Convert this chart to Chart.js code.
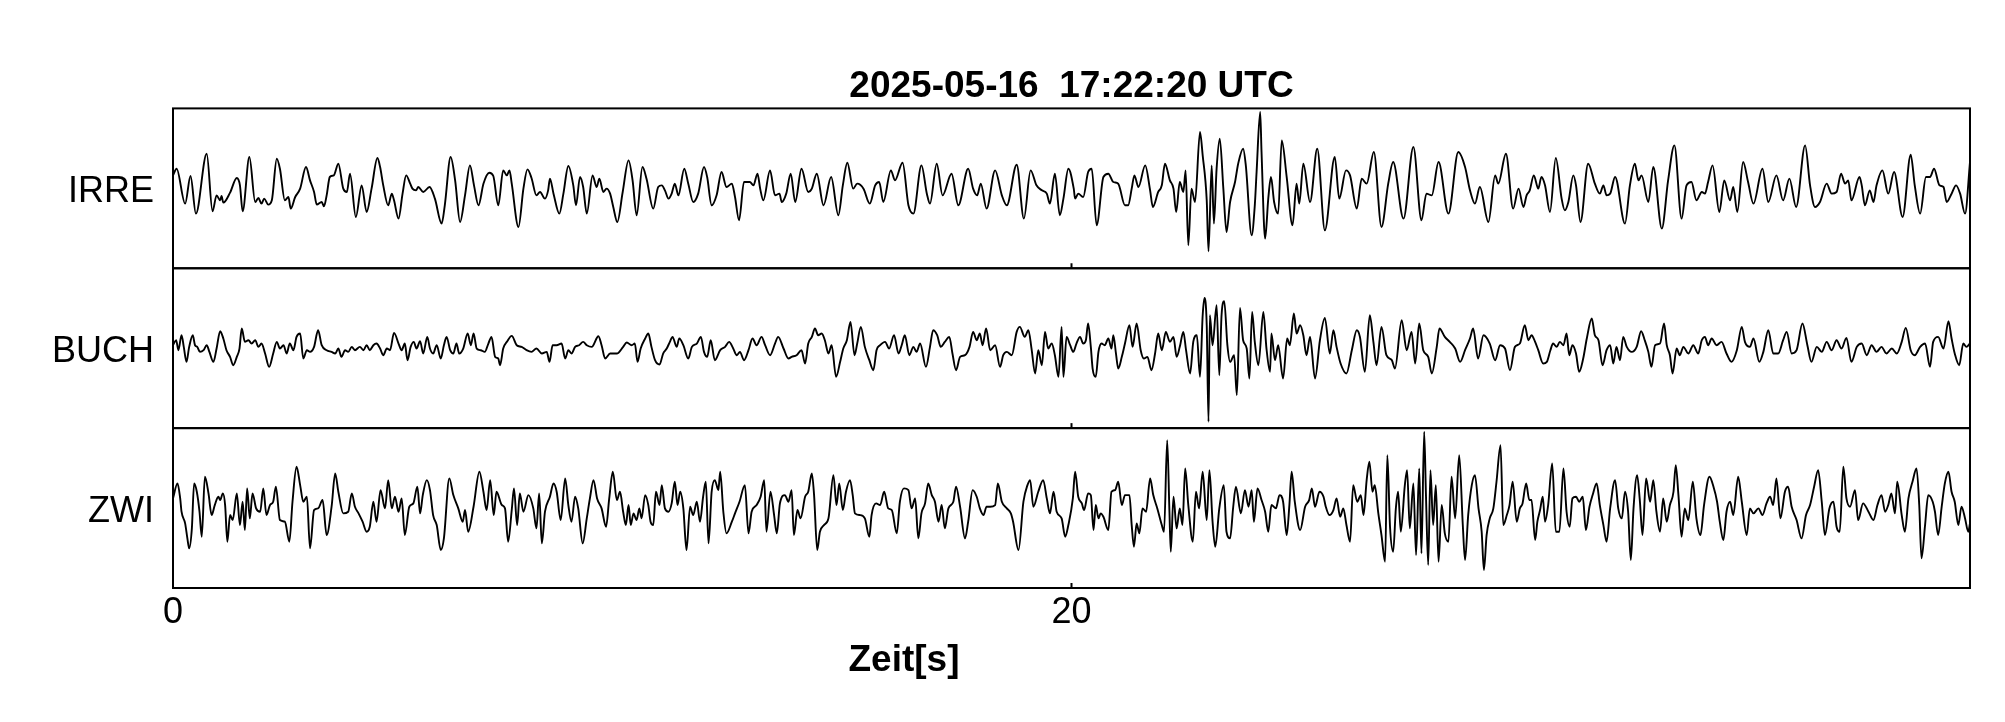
<!DOCTYPE html>
<html><head><meta charset="utf-8">
<script src="https://cdn.jsdelivr.net/npm/chart.js@4.4.1/dist/chart.umd.min.js"></script>
<style>html,body{margin:0;padding:0;background:#fff;}canvas{display:block;}</style>
</head><body>
<canvas id="c" width="2005" height="722"></canvas>
<script>
const titleText = '2025-05-16  17:22:20 UTC';
const xAxisTitle = 'Zeit[s]';
const stations = ['IRRE', 'BUCH', 'ZWI'];
const xTicks = [0, 20];
const timeRange = [0, 40];
const ampRange = [-240, 240];

// [time in s, amplitude]
const irreTrace = [[0,39],[0.08,59],[0.27,-46],[0.39,37],[0.51,-76],[0.75,104],[0.88,-69],[0.97,-21],[1.05,-36],[1.08,-23],[1.12,-43],[1.27,-13],[1.42,31],[1.49,9],[1.55,-69],[1.70,94],[1.83,-41],[1.90,-29],[1.97,-46],[2.03,-31],[2.12,-49],[2.20,-36],[2.31,89],[2.38,59],[2.49,-36],[2.57,-26],[2.62,-61],[2.72,-26],[2.83,-1],[2.96,64],[3.05,24],[3.14,-11],[3.20,-49],[3.31,-41],[3.36,-54],[3.42,-21],[3.49,34],[3.58,39],[3.68,74],[3.79,-1],[3.87,-11],[3.94,44],[4.07,-86],[4.20,9],[4.31,-71],[4.42,-1],[4.55,91],[4.61,64],[4.68,9],[4.79,-51],[4.87,-16],[4.92,-36],[5.02,-91],[5.11,-16],[5.19,39],[5.28,14],[5.33,-1],[5.41,-6],[5.46,4],[5.57,-11],[5.71,4],[5.83,-31],[5.98,-106],[6.05,-51],[6.18,94],[6.28,24],[6.39,-101],[6.50,-21],[6.61,69],[6.70,9],[6.80,-51],[6.91,14],[7.04,47],[7.13,37],[7.24,-51],[7.35,54],[7.43,39],[7.49,54],[7.54,14],[7.69,-116],[7.80,-1],[7.89,57],[7.98,31],[8.09,-21],[8.17,-11],[8.28,-31],[8.35,-6],[8.39,29],[8.47,-16],[8.60,-76],[8.69,-16],[8.80,67],[8.91,9],[8.97,-51],[9.06,34],[9.13,4],[9.21,-76],[9.34,39],[9.43,4],[9.49,29],[9.58,-11],[9.65,-1],[9.73,-16],[9.80,-56],[9.89,-101],[10.01,-11],
[10.14,84],[10.23,24],[10.32,-81],[10.45,64],[10.54,29],[10.69,-61],[10.80,4],[10.88,9],[10.95,-6],[11.03,-31],[11.10,-16],[11.17,14],[11.25,-21],[11.38,59],[11.47,14],[11.58,-41],[11.69,-16],[11.82,64],[11.89,34],[11.99,-51],[12.10,-21],[12.21,49],[12.32,4],[12.44,14],[12.51,-26],[12.60,-96],[12.71,19],[12.84,19],[12.92,9],[13.01,44],[13.07,-1],[13.14,-36],[13.29,54],[13.40,-21],[13.50,-16],[13.55,-41],[13.65,-16],[13.75,44],[13.85,-41],[13.99,59],[14.14,-11],[14.22,-1],[14.33,44],[14.48,-51],[14.65,34],[14.81,-81],[14.91,9],[15.01,77],[15.14,-1],[15.23,14],[15.37,-1],[15.51,-46],[15.63,9],[15.72,19],[15.81,-41],[15.98,54],[16.07,24],[16.24,77],[16.37,-51],[16.48,-76],[16.66,69],[16.78,-16],[16.85,-46],[17.00,74],[17.13,-21],[17.33,44],[17.48,-51],[17.70,59],[17.81,-1],[17.90,-21],[17.98,14],[18.11,-61],[18.30,54],[18.45,-21],[18.56,-51],[18.78,71],[18.94,-91],[19.09,54],[19.22,9],[19.34,-6],[19.45,-16],[19.52,-46],[19.63,44],[19.74,-81],[19.82,-31],[19.93,59],[20.05,-1],
[20.08,-31],[20.15,-16],[20.26,-26],[20.37,49],[20.45,59],[20.56,-111],[20.71,34],[20.82,44],[20.93,19],[21.04,14],[21.19,-51],[21.26,-51],[21.34,-1],[21.40,39],[21.49,4],[21.64,69],[21.75,-6],[21.81,-56],[21.93,-11],[22.01,9],[22.08,74],[22.19,24],[22.27,-1],[22.33,-71],[22.41,19],[22.49,-11],[22.54,54],[22.60,-171],[22.67,-1],[22.75,-41],[22.86,169],[22.92,99],[23.01,-36],[23.05,-189],[23.12,69],[23.17,-106],[23.23,59],[23.30,149],[23.38,-1],[23.45,-131],[23.53,-41],[23.64,19],[23.71,74],[23.82,119],[23.88,69],[24.01,-141],[24.08,-51],[24.12,49],[24.20,229],[24.23,109],[24.31,-151],[24.38,-31],[24.44,34],[24.51,-41],[24.60,-76],[24.68,144],[24.79,34],[24.92,-111],[25.01,14],[25.07,-46],[25.16,74],[25.31,-41],[25.47,119],[25.64,-126],[25.86,94],[25.96,-31],[26.11,54],[26.20,39],[26.35,-61],[26.46,29],[26.57,14],[26.73,109],[26.90,-116],[27.05,14],[27.16,79],[27.39,-91],[27.61,124],[27.79,-96],[27.90,-16],[28.02,-21],[28.17,79],[28.39,-76],[28.61,109],[28.76,64],[28.87,-6],[28.98,-46],[29.09,4],[29.28,-101],[29.43,39],[29.50,14],[29.67,104],[29.83,-61],[29.95,-1],[30.06,-56],
[30.13,-21],[30.20,-6],[30.29,39],[30.39,-1],[30.46,34],[30.54,9],[30.65,-71],[30.78,91],[30.91,-31],[30.98,-66],[31.06,-41],[31.17,39],[31.23,9],[31.33,-101],[31.50,74],[31.65,14],[31.76,-16],[31.84,9],[31.91,-21],[31.99,-16],[32.10,34],[32.32,-106],[32.43,9],[32.54,74],[32.62,24],[32.69,39],[32.84,-41],[32.95,64],[33.14,-121],[33.28,24],[33.42,129],[33.58,-91],[33.69,9],[33.80,19],[33.91,-36],[34.03,-11],[34.10,-16],[34.17,19],[34.27,69],[34.42,-71],[34.53,24],[34.66,-36],[34.73,4],[34.82,-71],[34.95,79],[35.06,19],[35.18,-46],[35.38,59],[35.51,-41],[35.69,39],[35.84,-36],[35.98,29],[36.13,-56],[36.33,129],[36.44,9],[36.55,-56],[36.66,-41],[36.81,14],[36.92,-16],[37.03,-11],[37.13,44],[37.22,14],[37.29,24],[37.36,-36],[37.54,34],[37.59,9],[37.66,-51],[37.77,-6],[37.85,-41],[37.92,9],[38.05,54],[38.18,-16],[38.31,49],[38.50,-86],[38.68,101],[38.77,9],[38.89,-76],[39.02,34],[39.11,34],[39.20,59],[39.32,9],[39.41,4],[39.48,-41],[39.59,-16],[39.69,9],[39.78,-16],[39.89,-76],[40.00,79]];

const buchTrace = [[0,9],[0.07,24],[0.12,-6],[0.19,39],[0.24,4],[0.30,-41],[0.36,4],[0.44,39],[0.49,9],[0.54,4],[0.60,-11],[0.68,-6],[0.75,9],[0.81,-11],[0.90,-41],[0.97,-1],[1.05,51],[1.12,29],[1.19,-6],[1.27,-26],[1.34,-51],[1.42,-26],[1.48,-1],[1.53,59],[1.60,19],[1.68,24],[1.75,14],[1.83,24],[1.90,4],[1.97,14],[2.05,-16],[2.14,-56],[2.23,-16],[2.31,19],[2.38,-1],[2.46,9],[2.53,-16],[2.60,14],[2.68,-6],[2.75,34],[2.83,44],[2.90,-31],[2.98,-6],[3.05,-11],[3.14,4],[3.23,54],[3.31,9],[3.42,-6],[3.53,-11],[3.61,-16],[3.68,-1],[3.75,-26],[3.83,-6],[3.90,-11],[3.98,4],[4.05,-6],[4.16,4],[4.24,-6],[4.31,9],[4.38,-6],[4.46,9],[4.53,14],[4.61,-1],[4.68,-21],[4.76,-1],[4.83,-6],[4.92,46],[5.02,14],[5.09,-6],[5.16,14],[5.22,-36],[5.29,4],[5.36,19],[5.42,-1],[5.50,21],[5.57,-16],[5.66,34],[5.72,-1],[5.79,-16],[5.87,9],[5.96,-31],[6.03,9],[6.09,34],[6.17,-6],[6.24,-16],[6.31,14],[6.37,-16],[6.46,-1],[6.56,44],[6.63,9],[6.69,44],[6.76,-1],[6.85,-6],[6.94,-11],[7.02,14],[7.09,34],[7.17,-26],[7.24,-31],[7.28,-51],[7.35,-1],[7.44,21],[7.54,37],[7.65,9],[7.76,4],[7.87,-6],[7.98,-11],[8.09,-1],[8.21,-16],[8.32,-11],[8.38,-41],[8.45,9],[8.54,9],[8.65,14],[8.73,-31],[8.80,-6],[8.87,-16],[8.95,4],[9.04,9],[9.13,19],[9.21,9],[9.32,4],[9.47,36],[9.54,9],[9.62,-31],[9.73,-16],[9.88,-16],
[10.02,4],[10.10,17],[10.21,9],[10.28,14],[10.34,-41],[10.41,-1],[10.51,29],[10.58,44],[10.65,4],[10.73,-36],[10.83,-49],[10.91,-16],[10.99,-1],[11.06,19],[11.12,34],[11.21,4],[11.27,29],[11.36,9],[11.47,-31],[11.55,4],[11.66,14],[11.75,34],[11.82,-11],[11.89,-26],[11.97,24],[12.06,-36],[12.18,-6],[12.29,4],[12.38,19],[12.47,-1],[12.55,-21],[12.62,-11],[12.71,-36],[12.81,-6],[12.90,29],[12.99,9],[13.10,34],[13.18,9],[13.29,-21],[13.40,14],[13.47,34],[13.59,-1],[13.70,-31],[13.77,-26],[13.88,-21],[13.99,-6],[14.07,-46],[14.14,14],[14.22,34],[14.29,59],[14.36,39],[14.44,44],[14.51,24],[14.59,-16],[14.66,9],[14.76,-86],[14.85,-41],[14.92,-1],[15.00,24],[15.08,79],[15.17,-21],[15.23,14],[15.31,64],[15.40,4],[15.50,-36],[15.59,-66],[15.66,-6],[15.74,9],[15.85,19],[15.94,-1],[16.05,39],[16.15,-16],[16.22,9],[16.29,39],[16.39,-21],[16.48,4],[16.55,-11],[16.63,14],[16.76,-56],[16.85,4],[16.92,54],[17.01,39],[17.09,4],[17.18,19],[17.28,34],[17.35,-16],[17.43,-66],[17.52,-26],[17.63,-21],[17.73,4],[17.81,49],[17.89,24],[17.96,44],[18.02,9],[18.10,59],[18.19,-6],[18.30,9],[18.41,-56],[18.48,-21],[18.56,-11],[18.67,-21],[18.78,49],[18.85,64],[18.96,34],[19.04,54],[19.11,-1],[19.19,-76],[19.26,-6],[19.34,-51],[19.41,49],[19.48,-1],[19.56,14],[19.63,-21],[19.71,-86],[19.78,64],[19.82,-86],[19.89,34],[19.97,9],
[20.04,-11],[20.11,14],[20.19,34],[20.26,14],[20.32,24],[20.37,74],[20.43,4],[20.47,-61],[20.54,-86],[20.60,-11],[20.67,14],[20.74,9],[20.82,29],[20.89,-1],[20.93,39],[20.99,-16],[21.04,-61],[21.12,-26],[21.19,14],[21.29,69],[21.36,4],[21.45,74],[21.54,-6],[21.61,-31],[21.69,-26],[21.78,-66],[21.86,-16],[21.93,44],[22.01,-6],[22.10,49],[22.19,19],[22.27,34],[22.34,-26],[22.41,4],[22.49,49],[22.55,-6],[22.64,-76],[22.71,19],[22.79,39],[22.86,-86],[22.92,99],[22.96,151],[23.01,69],[23.05,-221],[23.08,99],[23.14,9],[23.23,129],[23.29,-81],[23.34,99],[23.40,141],[23.47,9],[23.53,-41],[23.62,-21],[23.68,-141],[23.75,121],[23.82,24],[23.90,-1],[23.96,-91],[24.02,109],[24.08,19],[24.16,-51],[24.27,109],[24.34,-1],[24.42,-71],[24.45,44],[24.53,-36],[24.60,9],[24.71,-91],[24.80,29],[24.86,9],[24.95,104],[25.01,44],[25.09,69],[25.16,39],[25.23,-21],[25.31,34],[25.42,-91],[25.53,24],[25.64,91],[25.75,-16],[25.83,54],[25.90,4],[25.99,-46],[26.12,-76],[26.24,-6],[26.35,54],[26.42,34],[26.53,-71],[26.64,99],[26.72,19],[26.79,-51],[26.90,64],[27.01,-21],[27.13,-36],[27.20,-61],[27.35,84],[27.46,-6],[27.57,49],[27.65,-46],[27.74,74],[27.83,-6],[27.94,-26],[28.02,-76],[28.13,4],[28.19,59],[28.31,34],[28.42,19],[28.54,-1],[28.65,-41],[28.76,-6],[28.87,29],[28.94,59],[29.05,-31],[29.17,39],[29.31,14],[29.43,-36],[29.54,9],[29.65,-1],[29.76,-66],[29.87,4],[29.98,14],
[30.09,69],[30.17,24],[30.24,39],[30.32,19],[30.39,-6],[30.50,-46],[30.58,-41],[30.66,-6],[30.72,14],[30.80,4],[30.87,19],[30.95,9],[31.02,44],[31.08,-21],[31.15,9],[31.23,-16],[31.30,-71],[31.39,-31],[31.47,29],[31.58,89],[31.65,39],[31.73,24],[31.82,-51],[31.91,-6],[31.99,9],[32.06,-46],[32.13,4],[32.21,-36],[32.28,34],[32.36,4],[32.47,-11],[32.58,4],[32.68,51],[32.76,24],[32.84,-11],[32.91,-56],[32.99,9],[33.10,14],[33.19,74],[33.25,9],[33.32,-21],[33.38,-76],[33.47,-1],[33.54,-21],[33.62,4],[33.73,-16],[33.84,9],[33.95,-16],[34.03,24],[34.10,34],[34.17,9],[34.25,29],[34.36,9],[34.47,19],[34.58,-16],[34.69,-41],[34.81,-6],[34.92,64],[34.99,19],[35.10,4],[35.18,29],[35.31,-41],[35.40,-11],[35.51,54],[35.62,-16],[35.73,-16],[35.84,24],[35.92,49],[36.03,-16],[36.14,-6],[36.27,74],[36.38,9],[36.47,-41],[36.59,4],[36.70,-11],[36.81,19],[36.92,-6],[37.03,24],[37.14,-1],[37.25,31],[37.36,-41],[37.48,4],[37.59,14],[37.70,-21],[37.81,9],[37.92,-11],[38.03,4],[38.14,-16],[38.26,-1],[38.37,-16],[38.48,19],[38.57,61],[38.68,-6],[38.77,-21],[38.89,4],[39.00,14],[39.11,-56],[39.18,19],[39.29,34],[39.41,-1],[39.52,81],[39.59,29],[39.66,-16],[39.76,-51],[39.85,14],[39.92,4],[40.00,14]];

const zwiTrace = [[0,29],[0.10,74],[0.16,29],[0.19,-11],[0.27,-46],[0.32,-91],[0.36,-121],[0.42,-61],[0.47,74],[0.53,49],[0.59,-11],[0.64,-86],[0.71,94],[0.79,44],[0.86,-21],[0.93,9],[1.01,34],[1.05,24],[1.11,44],[1.16,9],[1.21,-101],[1.27,-21],[1.33,-36],[1.42,44],[1.49,-51],[1.55,19],[1.60,-66],[1.65,59],[1.71,-31],[1.77,44],[1.85,-1],[1.94,-11],[2.01,59],[2.08,-21],[2.16,9],[2.23,19],[2.29,64],[2.38,-36],[2.49,-41],[2.59,-101],[2.66,19],[2.75,124],[2.83,69],[2.90,19],[2.98,34],[3.05,-121],[3.14,-6],[3.23,-1],[3.33,24],[3.42,-81],[3.53,4],[3.61,104],[3.68,49],[3.79,-16],[3.90,-11],[3.98,44],[4.05,4],[4.13,-16],[4.22,-41],[4.31,-71],[4.38,-56],[4.46,19],[4.53,-41],[4.62,54],[4.72,-1],[4.79,84],[4.87,-1],[4.94,34],[5.02,-11],[5.09,29],[5.16,-81],[5.26,4],[5.35,14],[5.44,64],[5.50,-16],[5.56,39],[5.65,84],[5.72,54],[5.79,-21],[5.87,-51],[5.96,-126],[6.03,-91],[6.15,89],[6.24,39],[6.35,-1],[6.45,-41],[6.50,-6],[6.57,-71],[6.69,4],[6.82,109],[6.91,49],[6.98,-6],[7.06,84],[7.14,-21],[7.20,49],[7.32,9],[7.39,-1],[7.46,-101],[7.54,-6],[7.59,59],[7.66,-51],[7.72,44],[7.80,-11],[7.91,39],[8.02,-1],[8.09,-61],[8.15,44],[8.21,-106],[8.28,-11],[8.39,34],[8.47,74],[8.54,49],[8.63,-36],[8.73,89],[8.80,9],[8.87,-41],[8.95,34],[9.02,-1],[9.12,-106],[9.21,-31],[9.28,29],[9.36,84],[9.44,29],[9.54,-1],[9.64,-56],[9.71,29],[9.79,109],[9.88,24],[9.95,49],
[10.02,-11],[10.08,-51],[10.14,9],[10.19,-51],[10.25,-16],[10.32,-36],[10.38,-1],[10.43,-31],[10.51,39],[10.58,9],[10.63,-41],[10.69,-51],[10.75,49],[10.83,9],[10.88,69],[10.95,-1],[11.03,-11],[11.10,14],[11.17,79],[11.23,9],[11.29,49],[11.36,-1],[11.43,-126],[11.51,4],[11.58,-21],[11.66,19],[11.73,-41],[11.80,34],[11.86,79],[11.92,-106],[11.99,49],[12.06,84],[12.14,54],[12.18,109],[12.25,-11],[12.32,-76],[12.44,-41],[12.51,-16],[12.61,19],[12.73,69],[12.81,-76],[12.88,-11],[12.99,9],[13.08,34],[13.16,84],[13.21,-71],[13.30,49],[13.38,-21],[13.44,-76],[13.51,14],[13.62,39],[13.70,19],[13.77,54],[13.82,-81],[13.90,-6],[13.97,-31],[14.07,34],[14.14,49],[14.22,104],[14.27,39],[14.34,-126],[14.40,-71],[14.49,-51],[14.59,-31],[14.70,99],[14.77,9],[14.83,74],[14.91,-6],[14.98,49],[15.07,84],[15.13,39],[15.18,-16],[15.29,-21],[15.40,-31],[15.50,-86],[15.55,-21],[15.65,14],[15.74,9],[15.83,49],[15.92,-1],[16.00,-6],[16.11,-76],[16.18,19],[16.27,59],[16.37,54],[16.44,-1],[16.52,29],[16.59,-91],[16.66,-16],[16.74,14],[16.81,74],[16.89,39],[16.96,19],[17.04,-41],[17.11,9],[17.18,-61],[17.26,-1],[17.37,19],[17.43,64],[17.52,4],[17.63,-91],[17.70,-41],[17.80,54],[17.89,34],[17.96,-1],[18.04,-21],[18.11,4],[18.19,4],[18.30,9],[18.36,74],[18.45,19],[18.56,-1],[18.65,-16],[18.70,-41],[18.82,-126],[18.93,19],[19.02,69],[19.08,84],[19.15,4],[19.26,49],[19.37,84],[19.45,29],[19.52,-16],[19.60,49],[19.67,-11],[19.78,-31],[19.86,-86],[19.93,-51],[20.03,29],
[20.08,109],[20.15,34],[20.23,14],[20.28,-6],[20.37,44],[20.43,39],[20.49,-66],[20.54,9],[20.60,-31],[20.65,-16],[20.71,-26],[20.82,-66],[20.89,49],[20.97,54],[21.04,79],[21.12,9],[21.19,39],[21.29,39],[21.34,-51],[21.39,-116],[21.45,-46],[21.51,-76],[21.58,-1],[21.66,-11],[21.75,89],[21.82,39],[21.91,-1],[22.01,-51],[22.06,-71],[22.13,204],[22.18,-11],[22.21,-131],[22.27,34],[22.34,-61],[22.41,-1],[22.47,-51],[22.53,119],[22.60,9],[22.70,-101],[22.77,49],[22.84,-1],[22.92,109],[23.01,-36],[23.07,114],[23.14,-41],[23.20,-116],[23.29,-1],[23.39,69],[23.45,-71],[23.53,-91],[23.60,4],[23.66,64],[23.77,-16],[23.86,54],[23.94,4],[24.01,54],[24.06,-41],[24.14,59],[24.23,24],[24.31,-11],[24.38,-71],[24.45,9],[24.55,-1],[24.63,39],[24.71,19],[24.79,-81],[24.85,9],[24.90,109],[24.97,19],[25.09,-66],[25.20,4],[25.29,24],[25.35,59],[25.42,4],[25.52,49],[25.61,34],[25.66,4],[25.74,-21],[25.83,-6],[25.90,29],[25.98,-26],[26.05,-1],[26.12,-51],[26.20,-101],[26.27,69],[26.36,19],[26.44,39],[26.50,-21],[26.57,84],[26.63,139],[26.70,49],[26.75,69],[26.83,-16],[26.90,-81],[26.98,-161],[27.03,159],[27.09,-56],[27.16,-131],[27.22,-1],[27.27,49],[27.33,-71],[27.42,69],[27.47,114],[27.53,-61],[27.61,74],[27.67,-141],[27.74,119],[27.79,-136],[27.85,229],[27.89,39],[27.94,-171],[27.99,114],[28.05,-51],[28.11,69],[28.17,-161],[28.24,9],[28.31,-76],[28.39,-101],[28.46,94],[28.54,-31],[28.63,159],[28.71,-51],[28.76,-156],[28.83,-21],[28.91,69],[28.98,99],[29.06,-1],[29.13,-71],[29.18,-186],[29.24,-81],[29.31,-31],[29.39,-1],[29.46,79],[29.55,189],[29.61,-51],[29.69,-21],[29.75,9],[29.82,79],[29.91,-41],[29.98,-1],
[30.04,14],[30.12,74],[30.19,24],[30.24,24],[30.32,-96],[30.37,-41],[30.43,-6],[30.49,34],[30.54,-41],[30.61,9],[30.70,134],[30.78,-71],[30.86,-71],[30.95,119],[31.02,-11],[31.09,-56],[31.15,29],[31.23,34],[31.30,19],[31.38,34],[31.45,-66],[31.53,4],[31.60,39],[31.69,74],[31.76,9],[31.84,-51],[31.91,-101],[31.99,-1],[32.10,84],[32.17,-1],[32.25,-31],[32.32,49],[32.39,-11],[32.45,-156],[32.51,-1],[32.59,99],[32.65,24],[32.71,-81],[32.79,89],[32.88,19],[32.95,84],[33.02,-11],[33.10,-71],[33.17,29],[33.25,-41],[33.32,9],[33.40,49],[33.45,129],[33.51,39],[33.58,-86],[33.65,-1],[33.73,-36],[33.83,79],[33.91,-31],[34.00,-81],[34.08,9],[34.20,94],[34.29,64],[34.37,19],[34.43,-41],[34.51,-96],[34.58,-11],[34.66,19],[34.73,-21],[34.84,94],[34.92,19],[35.03,-81],[35.10,-1],[35.18,-16],[35.29,-1],[35.38,-21],[35.47,14],[35.55,34],[35.62,9],[35.69,89],[35.78,-31],[35.88,49],[35.95,64],[36.03,4],[36.14,-36],[36.25,-91],[36.35,-21],[36.44,9],[36.53,64],[36.62,114],[36.70,19],[36.77,-81],[36.87,-1],[36.96,19],[37.03,-56],[37.10,-71],[37.18,124],[37.25,29],[37.33,4],[37.44,54],[37.51,-36],[37.62,14],[37.74,-11],[37.85,-36],[37.94,9],[38.03,39],[38.11,-11],[38.18,9],[38.25,44],[38.33,-16],[38.38,79],[38.48,-21],[38.55,-71],[38.63,29],[38.72,79],[38.81,119],[38.87,9],[38.92,-151],[39.00,-51],[39.07,39],[39.17,19],[39.22,-11],[39.29,-81],[39.37,4],[39.44,74],[39.52,109],[39.59,49],[39.66,19],[39.74,-51],[39.81,4],[39.89,-31],[39.96,-71],[40.00,-46]];

const FONT = '"Liberation Sans", Arial, Helvetica, sans-serif';
const traces = [irreTrace, buchTrace, zwiTrace];
const axisIds = ['yIRRE', 'yBUCH', 'yZWI'];

const datasets = traces.map((tr, i) => ({
  label: stations[i],
  data: tr.map(p => ({x: p[0], y: p[1]})),
  yAxisID: axisIds[i],
  borderColor: '#000',
  borderWidth: 1.9,
  pointRadius: 0,
  fill: false,
  cubicInterpolationMode: 'monotone',
  borderJoinStyle: 'round'
}));

const scales = {
  x: {
    type: 'linear', position: 'bottom', min: timeRange[0], max: timeRange[1],
    afterBuildTicks: s => { s.ticks = xTicks.map(v => ({value: v})); },
    ticks: {font: {family: FONT, size: 36}, color: '#000', padding: 3, maxRotation: 0, autoSkip: false},
    grid: {display: false, drawTicks: false},
    border: {display: false},
    afterFit: s => { s.height = 134; }
  }
};
axisIds.forEach((id, i) => {
  scales[id] = {
    type: 'linear', position: 'left', stack: 'traces', stackWeight: 1, weight: 3 - i,
    min: ampRange[0], max: ampRange[1],
    afterBuildTicks: s => { s.ticks = [{value: 0}]; },
    ticks: {callback: () => stations[i], font: {family: FONT, size: 36}, color: '#000', padding: 19, labelOffset: 4},
    grid: {display: false, drawTicks: false},
    border: {display: false},
    afterFit: s => { s.width = 173; }
  };
});

const framePlugin = {
  id: 'frames',
  afterDatasetsDraw(chart) {
    const {ctx, chartArea} = chart;
    const xs = chart.scales.x;
    ctx.save();
    ctx.strokeStyle = '#000';
    ctx.lineWidth = 2;
    axisIds.forEach(id => {
      const s = chart.scales[id];
      ctx.strokeRect(chartArea.left, s.top, chartArea.right - chartArea.left, s.bottom - s.top);
      xs.ticks.forEach(t => {
        const px = xs.getPixelForValue(t.value);
        ctx.beginPath();
        ctx.moveTo(px, s.bottom);
        ctx.lineTo(px, s.bottom - 5);
        ctx.stroke();
      });
    });
    ctx.font = 'bold 37px ' + FONT;
    ctx.textAlign = 'center';
    ctx.textBaseline = 'middle';
    ctx.fillStyle = '#000';
    ctx.fillText(xAxisTitle, 904, 661);
    ctx.restore();
  }
};

new Chart(document.getElementById('c'), {
  type: 'line',
  data: {datasets},
  options: {
    responsive: false,
    animation: false,
    devicePixelRatio: 1,
    layout: {padding: {left: 0, right: 35, top: 0, bottom: 0}},
    plugins: {
      legend: {display: false},
      tooltip: {enabled: false},
      title: {
        display: true, text: titleText, fullSize: false, align: 'center', color: '#000',
        font: {family: FONT, size: 37, weight: 'bold', lineHeight: 1},
        padding: {top: 68.7, bottom: 2.7}
      }
    },
    scales
  },
  plugins: [framePlugin]
});
</script>
</body></html>
